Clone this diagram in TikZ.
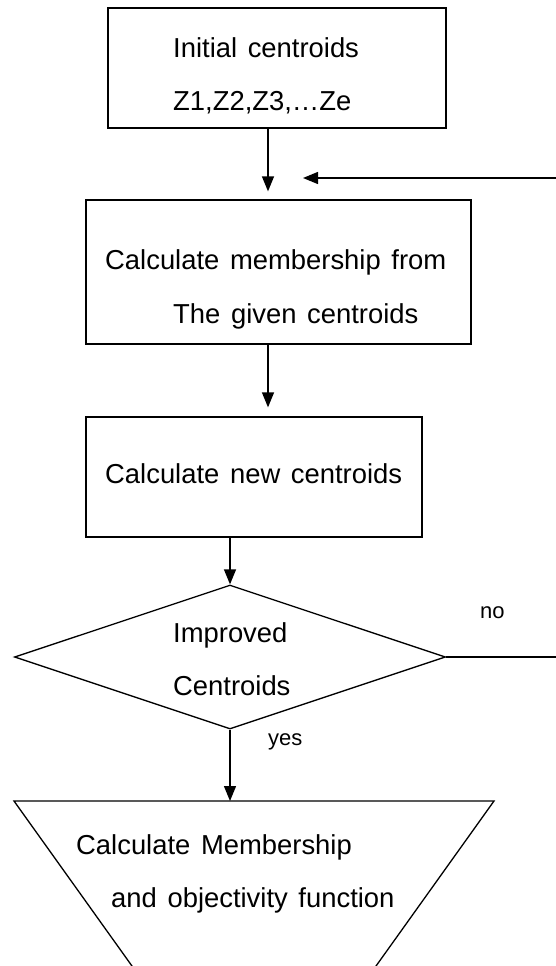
\documentclass[tikz,border=0pt]{standalone}
\usepackage{fontspec}
\setmainfont[WordSpace=1.4]{Liberation Sans}
\usetikzlibrary{arrows.meta,shapes.geometric,calc}
\begin{document}
\begin{tikzpicture}[x=1pt,y=-1pt,
  shapebox/.style={draw,line width=1.3pt,rectangle,inner sep=0pt},
  decision/.style={draw,line width=1.3pt,diamond,inner sep=0pt,aspect=3},
  lbl/.style={anchor=base west,inner sep=0pt,font=\fontsize{27.4}{34}\selectfont},
  smalllbl/.style={anchor=base west,inner sep=0pt,font=\fontsize{22}{26}\selectfont},
  arr/.style={line width=1.3pt,-{Triangle[width=12pt,length=15pt]}},
  ln/.style={line width=1.3pt}]
\fill[white] (0,0) rectangle (556,966);
\useasboundingbox (0,0) rectangle (556,966);
% shapes
\node[shapebox,minimum width=338pt,minimum height=120pt] (b1) at (277,68) {};
\node[shapebox,minimum width=385pt,minimum height=144pt] (b2) at (278.5,272) {};
\node[shapebox,minimum width=336pt,minimum height=120pt] (b3) at (254,477) {};
\node[decision,minimum width=431pt,minimum height=144pt] (dia) at (230,657) {};
\coordinate (tl) at (14,801);
\coordinate (tr) at (494,801);
\coordinate (tt) at (230,801);
\begin{scope}
\clip (0,0) rectangle (556,966);
\draw[ln] ($(tl)+(0.715*180,180)$) -- (tl) -- (tr) -- ($(tr)+(-0.715*180,180)$);
\end{scope}
% texts
\node[lbl] (t1a) at (173,57) {Initial centroids};
\node[lbl] (t1b) at (173,110) {Z1,Z2,Z3,…Ze};
\node[lbl] (t2a) at (105,269) {Calculate membership from};
\node[lbl] (t2b) at (173,323) {The given centroids};
\node[lbl] (t3) at (105,483) {Calculate new centroids};
\node[lbl] (t4a) at (173,642) {Improved};
\node[lbl] (t4b) at (173,695) {Centroids};
\node[lbl] (t5a) at (76,854) {Calculate Membership};
\node[lbl] (t5b) at (111,907) {and objectivity function};
\node[smalllbl] (no) at (480,618) {no};
\node[smalllbl] (yes) at (268,745) {yes};
% connectors
\coordinate (ax) at (268,0);
\coordinate (fbR) at (556,178);
\coordinate (fbT) at (303,178);
\draw[arr,shorten >=8pt] (b1.south -| ax) -- (b2.north -| ax);
\draw[arr,shorten >=9pt] (b2.south -| ax) -- (b3.north -| ax);
\draw[arr] (b3.south -| dia.north) -- (dia.north);
\draw[arr] (dia.south) -- (tt);
\draw[ln] (dia.east) -- (dia.east -| fbR);
\draw[arr] (fbR) -- (fbT);
\end{tikzpicture}
\end{document}
